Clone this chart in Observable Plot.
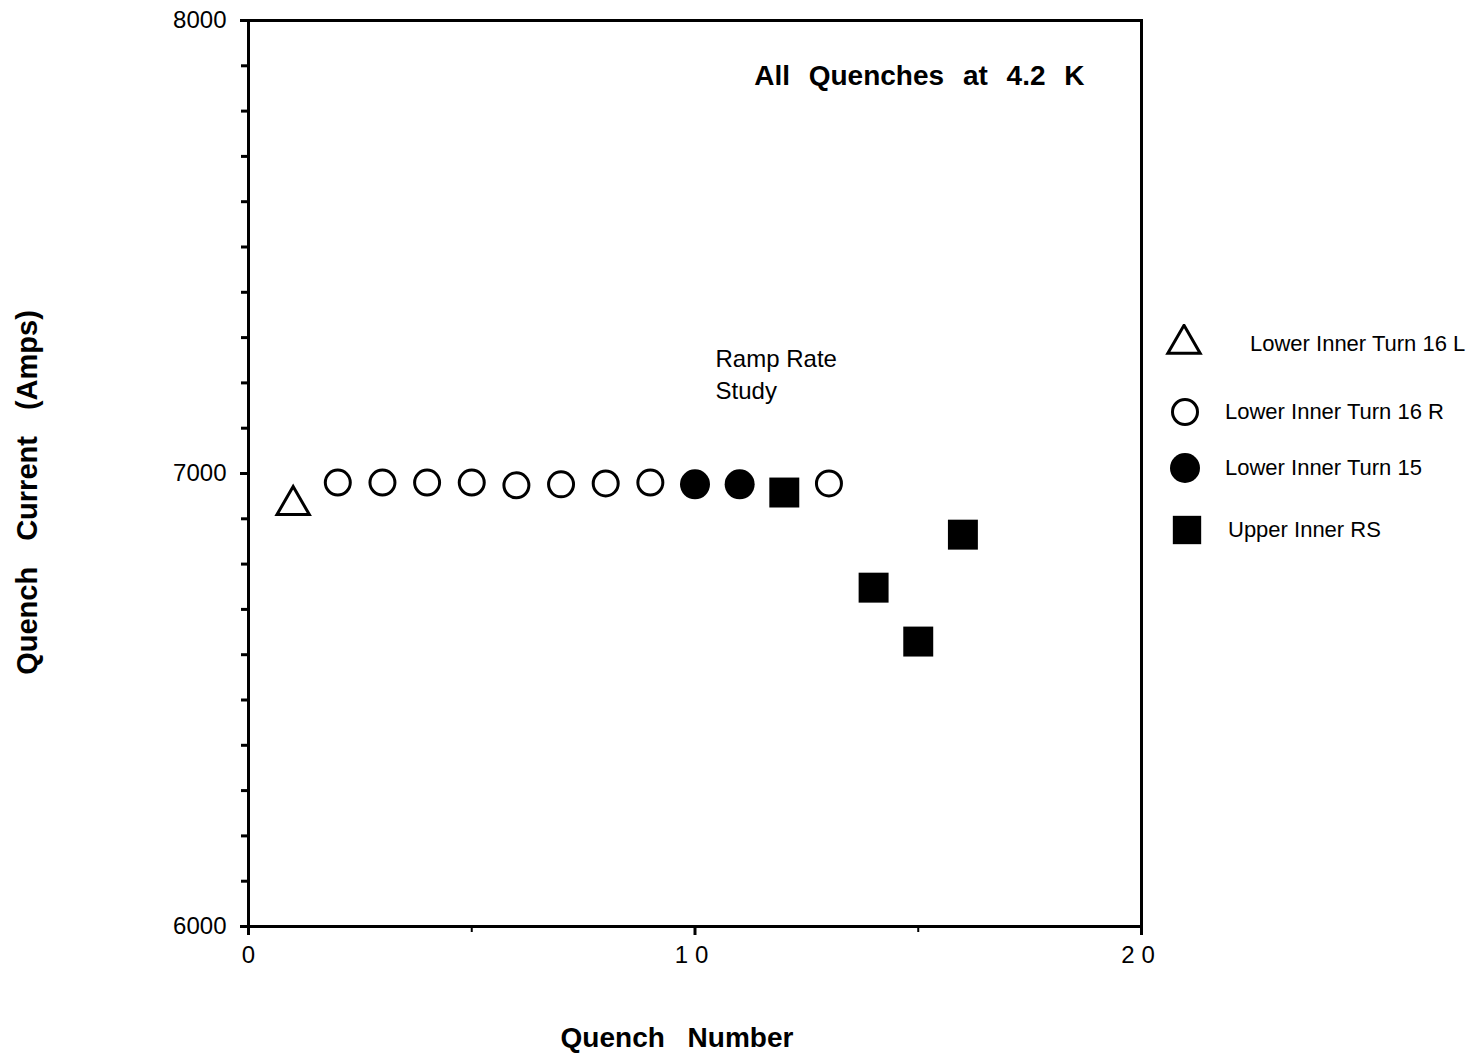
<!DOCTYPE html>
<html>
<head>
<meta charset="utf-8">
<script src="https://cdn.jsdelivr.net/npm/d3@7"></script>
<script src="https://cdn.jsdelivr.net/npm/@observablehq/plot@0.6"></script>
<style>
  body { margin: 0; background: #fff; }
  #wrap { position: relative; width: 1480px; height: 1054px; font-family: "Liberation Sans", Arial, Helvetica, sans-serif; }
  #wrap svg.plot { position: absolute; left: 0; top: 0; }
  .key-sym { position: absolute; width: 40px; height: 40px; }
  .key-text { position: absolute; font-size: 22px; line-height: 26px; color: #000; white-space: nowrap; }
</style>
</head>
<body>
<div id="wrap"></div>
<script>
// Quench history at 4.2 K, grouped by quench origin
const seriesNames = ["Lower Inner Turn 16 L", "Lower Inner Turn 16 R", "Lower Inner Turn 15", "Upper Inner RS"];

const turn16LNumber = [1];
const turn16LCurrent = [6930];

const turn16RNumber = [2, 3, 4, 5, 6, 7, 8, 9, 13];
const turn16RCurrent = [6980, 6980, 6980, 6980, 6974, 6976, 6978, 6980, 6978];

const turn15Number = [10, 11];
const turn15Current = [6976, 6976];

const upperRSNumber = [12, 14, 15, 16];
const upperRSCurrent = [6958, 6748, 6629, 6865];

const xMajorTicks = [0, 10, 20];
const xMinorTicks = [5, 15];
const yMajorTicks = [6000, 7000, 8000];
const yMinorTicks = d3.range(6000, 8001, 100);

const titleText = "All Quenches at 4.2 K";
const xLabel = "Quench Number";
const yLabel = "Quench Current (Amps)";
const noteText = "Ramp Rate\nStudy";
const noteNumber = [10.46];
const noteCurrent = [7222];

const pairs = (xs, ys) => xs.map((x, i) => ({n: x, amps: ys[i]}));

const font = "Liberation Sans, Arial, Helvetica, sans-serif";

const chart = Plot.plot({
  width: 1480,
  height: 1054,
  marginLeft: 248,
  marginRight: 339,
  marginTop: 20,
  marginBottom: 128,
  style: {fontFamily: font, color: "#000", background: "transparent"},
  x: {domain: [0, 20], label: null},
  y: {domain: [6000, 8000], label: null},
  marks: [
    Plot.frame({stroke: "#000", strokeWidth: 3}),
    // y axis: labelled thousands, minor ticks every 100 A
    Plot.axisY(yMinorTicks, {tickSize: 7, strokeWidth: 3, tickFormat: () => "", label: null}),
    Plot.axisY(yMajorTicks, {tickSize: 8, tickPadding: 14, strokeWidth: 3, fontSize: 24,
      tickFormat: d3.format("d"), label: null}),
    // x axis
    Plot.axisX(xMinorTicks, {tickSize: 6, strokeWidth: 2, tickFormat: () => "", label: null}),
    Plot.axisX(xMajorTicks, {tickSize: 9, tickPadding: 10, strokeWidth: 3, fontSize: 24, label: null}),
    // series
    Plot.dot(pairs(turn16LNumber, turn16LCurrent), {x: "n", y: "amps", symbol: "triangle", r: 12,
      stroke: "#000", strokeWidth: 3, fill: "#fff"}),
    Plot.dot(pairs(turn16RNumber, turn16RCurrent), {x: "n", y: "amps", symbol: "circle", r: 12.5,
      stroke: "#000", strokeWidth: 3, fill: "#fff"}),
    Plot.dot(pairs(turn15Number, turn15Current), {x: "n", y: "amps", symbol: "circle", r: 15,
      fill: "#000", stroke: "none"}),
    Plot.dot(pairs(upperRSNumber, upperRSCurrent), {x: "n", y: "amps", symbol: "square", r: 16.9,
      fill: "#000", stroke: "none"}),
    // annotations
    Plot.text(pairs(noteNumber, noteCurrent), {x: "n", y: "amps", text: () => noteText,
      textAnchor: "start", lineAnchor: "middle", lineHeight: 1.33, fontSize: 24, fill: "#000"}),
    Plot.text([titleText], {frameAnchor: "top-right", dx: -57, dy: 56, textAnchor: "end",
      lineAnchor: "middle", fontSize: 28, fontWeight: "bold", fill: "#000"}),
    Plot.text([xLabel], {frameAnchor: "bottom", dx: -18, dy: 112, textAnchor: "middle", lineAnchor: "middle",
      fontSize: 28, fontWeight: "bold", fill: "#000"}),
    Plot.text([yLabel], {frameAnchor: "left", dx: -221, dy: 19, rotate: -90, textAnchor: "middle",
      lineAnchor: "middle", fontSize: 29, fontWeight: "bold", fill: "#000"})
  ]
});
chart.classList.add("plot");

// wider word gaps on the bold labels, spaced digits on the x tick labels
d3.select(chart).selectAll("text").each(function () {
  const t = this.textContent;
  if (t === titleText) this.style.wordSpacing = "11px";
  if (t === xLabel) this.style.wordSpacing = "15px";
  if (t === yLabel) this.style.wordSpacing = "18px";
});
d3.select(chart).selectAll("g[aria-label='x-axis tick label'] text").each(function () {
  if (this.textContent.length > 1) { this.style.letterSpacing = "7px"; }
});

const wrap = document.getElementById("wrap");
wrap.appendChild(chart);

// legend to the right of the frame
const keyItems = [
  {name: seriesNames[0], symbol: d3.symbolTriangle, r: 12, fill: "#fff", stroke: "#000", cx: 1184, cy: 344, tx: 1250},
  {name: seriesNames[1], symbol: d3.symbolCircle, r: 12.5, fill: "#fff", stroke: "#000", cx: 1185, cy: 412, tx: 1225},
  {name: seriesNames[2], symbol: d3.symbolCircle, r: 15, fill: "#000", stroke: "none", cx: 1185, cy: 468, tx: 1225},
  {name: seriesNames[3], symbol: d3.symbolSquare, r: 16, fill: "#000", stroke: "none", cx: 1187, cy: 530, tx: 1228}
];
for (const k of keyItems) {
  const s = d3.select(wrap).append("svg").attr("class", "key-sym")
    .attr("width", 40).attr("height", 40)
    .style("left", (k.cx - 20) + "px").style("top", (k.cy - 20) + "px");
  s.append("path")
    .attr("transform", "translate(20,20)")
    .attr("d", d3.symbol(k.symbol, Math.PI * k.r * k.r)())
    .attr("fill", k.fill).attr("stroke", k.stroke).attr("stroke-width", 3);
  d3.select(wrap).append("div").attr("class", "key-text")
    .style("left", k.tx + "px").style("top", (k.cy - 13) + "px")
    .text(k.name);
}
</script>
</body>
</html>
